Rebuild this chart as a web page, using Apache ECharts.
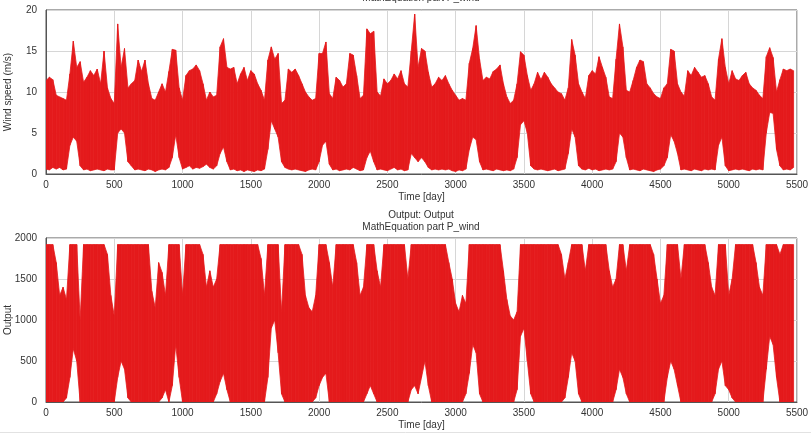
<!DOCTYPE html>
<html>
<head>
<meta charset="utf-8">
<script src="https://cdn.jsdelivr.net/npm/echarts@6/dist/echarts.min.js"></script>
<style>
html, body { margin: 0; padding: 0; background: #fff; }
#chart { width: 811px; height: 433px; }
</style>
</head>
<body>
<div id="chart"></div>
<script>
const STEP = 25

const windHigh = [
  11.4, 11.8, 11.5, 9.6, 9.4, 9.2, 9.0, 12.2, 16.2, 13.0,
  13.7, 11.2, 11.8, 12.6, 12.0, 12.8, 11.0, 15.0, 10.5, 9.2,
  8.6, 18.3, 13.0, 15.3, 10.5, 11.0, 11.4, 13.9, 12.5, 13.9,
  11.0, 9.2, 9.0, 10.0, 11.0, 10.0, 12.5, 15.2, 15.1, 10.5,
  9.0, 12.0, 12.6, 12.8, 13.3, 12.6, 11.0, 9.0, 10.0, 9.4,
  9.6, 15.5, 16.5, 13.0, 12.8, 13.0, 11.0, 12.2, 13.0, 11.4,
  12.6, 12.2, 11.0, 10.2, 9.0, 13.9, 15.5, 14.0, 14.7, 8.6,
  9.0, 12.8, 12.4, 12.8, 12.0, 11.0, 10.0, 9.4, 9.0, 9.2,
  14.7, 14.7, 16.1, 9.8, 9.2, 11.8, 11.4, 10.6, 11.0, 14.7,
  14.5, 12.0, 9.2, 9.6, 17.7, 17.1, 17.4, 10.0, 9.5, 11.6,
  11.0, 11.4, 12.2, 11.6, 12.6, 11.0, 10.6, 15.0, 19.5, 13.0,
  15.3, 15.0, 12.4, 10.6, 11.0, 11.8, 11.4, 12.0, 11.0, 10.2,
  9.6, 9.0, 9.2, 9.0, 13.5, 15.3, 18.1, 14.0, 11.4, 11.8,
  11.6, 12.5, 12.8, 13.3, 11.0, 9.4, 8.6, 9.0, 11.0, 14.9,
  14.5, 12.0, 10.2, 11.0, 12.4, 11.5, 12.4, 11.8, 11.0, 10.5,
  10.0, 9.8, 9.0, 10.5, 16.4, 14.5, 11.0, 10.0, 9.2, 12.0,
  12.6, 12.2, 14.3, 13.0, 11.8, 9.4, 9.2, 14.0, 18.3, 15.5,
  10.2, 10.0, 11.4, 13.0, 13.9, 13.7, 11.0, 10.5, 9.8, 9.4,
  9.2, 10.5, 11.0, 15.2, 15.0, 11.0, 10.0, 9.5, 12.6, 12.0,
  13.0, 12.4, 11.8, 12.0, 11.0, 9.4, 9.0, 14.0, 16.5, 13.0,
  11.0, 12.6, 11.6, 11.4, 12.0, 12.4, 11.0, 10.5, 10.2, 9.6,
  9.2, 14.3, 15.4, 14.2, 10.0, 11.5, 12.8, 12.6, 12.8, 12.6
]
const windLow = [
  0.6, 0.5, 0.8, 0.6, 0.8, 0.5, 0.6, 3.5, 4.5, 4.0,
  1.0, 0.5, 0.6, 0.4, 0.5, 0.6, 0.5, 0.4, 0.6, 0.5,
  0.5, 5.0, 5.5, 5.0, 1.5, 1.0, 0.5, 0.6, 0.5, 0.4,
  0.6, 0.5, 0.3, 0.5, 0.6, 0.5, 0.8, 2.0, 4.8, 2.0,
  0.6, 0.8, 1.0, 0.6, 0.8, 0.7, 0.9, 1.2, 0.8, 0.6,
  1.0, 2.5, 3.3, 1.5, 0.5, 0.6, 0.4, 0.5, 0.3, 0.5,
  0.4, 0.3, 0.5, 0.4, 0.6, 3.0, 6.5, 5.5, 4.5, 1.5,
  0.8, 0.6, 0.5, 0.6, 0.5, 0.4, 0.3, 0.5, 0.6, 0.5,
  1.5, 3.5, 4.0, 1.2, 0.5, 0.6, 0.4, 0.5, 0.6, 0.5,
  0.8, 0.6, 0.4, 0.5, 2.0, 2.8, 1.5, 0.5, 0.6, 0.5,
  0.4, 0.6, 0.8, 0.5, 0.6, 0.4, 0.5, 2.5, 2.0, 1.5,
  2.0, 1.5, 0.8, 0.5, 0.6, 0.5, 0.6, 0.5, 0.6, 0.4,
  0.3, 0.5, 0.4, 0.6, 3.0, 4.5, 4.2, 1.5, 0.5, 0.6,
  0.5, 0.4, 0.6, 0.5, 0.4, 0.5, 0.4, 0.6, 2.0, 6.0,
  6.5, 5.0, 1.0, 0.6, 0.5, 0.6, 0.5, 0.4, 0.5, 0.6,
  0.4, 0.5, 0.6, 2.5, 5.5, 4.5, 1.0, 0.6, 0.5, 0.7,
  0.5, 0.6, 0.4, 0.5, 0.6, 0.5, 0.6, 1.5, 5.0, 4.5,
  2.0, 0.5, 0.6, 0.5, 0.4, 0.6, 0.5, 0.4, 0.3, 0.5,
  0.6, 1.0, 2.0, 4.8, 4.0, 2.5, 0.5, 0.6, 0.5, 0.4,
  0.6, 0.5, 0.4, 0.6, 0.5, 0.6, 0.5, 3.5, 4.5, 1.0,
  0.4, 0.5, 0.6, 0.5, 0.6, 0.5, 0.4, 0.6, 0.5, 0.6,
  0.5, 5.0, 7.5, 7.4, 3.0, 1.0, 0.5, 0.6, 0.5, 0.8
]
const outHigh = [
  1920, 1920, 1920, 1700, 1300, 1400, 1250, 1920, 1920, 1920,
  1000, 1920, 1920, 1920, 1920, 1920, 1920, 1920, 1800, 1300,
  1050, 1920, 1920, 1920, 1920, 1920, 1920, 1920, 1920, 1920,
  1920, 1350, 1150, 1700, 1580, 1300, 1920, 1920, 1920, 1920,
  1300, 1920, 1920, 1920, 1920, 1920, 1800, 1400, 1600, 1400,
  1500, 1920, 1920, 1920, 1920, 1920, 1920, 1920, 1920, 1920,
  1920, 1920, 1920, 1750, 1300, 1920, 1920, 1920, 1920, 1100,
  1920, 1920, 1920, 1920, 1920, 1800, 1300, 1150, 1100, 1300,
  1920, 1920, 1920, 1700, 1400, 1920, 1920, 1920, 1920, 1920,
  1920, 1700, 1300, 1400, 1920, 1920, 1920, 1600, 1400, 1920,
  1920, 1920, 1920, 1920, 1920, 1920, 1500, 1920, 1920, 1920,
  1920, 1920, 1920, 1920, 1920, 1920, 1920, 1920, 1700, 1500,
  1200, 1100, 1300, 1200, 1920, 1920, 1920, 1920, 1920, 1920,
  1920, 1920, 1920, 1920, 1600, 1250, 1050, 1000, 1100, 1920,
  1920, 1920, 1920, 1920, 1920, 1920, 1920, 1920, 1920, 1920,
  1920, 1800, 1500, 1700, 1920, 1920, 1920, 1920, 1600, 1920,
  1920, 1920, 1920, 1920, 1920, 1600, 1400, 1500, 1920, 1920,
  1600, 1920, 1920, 1920, 1920, 1920, 1920, 1920, 1800, 1500,
  1200, 1300, 1920, 1920, 1920, 1920, 1500, 1920, 1920, 1920,
  1920, 1920, 1920, 1920, 1700, 1400, 1300, 1920, 1920, 1920,
  1300, 1500, 1920, 1920, 1920, 1920, 1920, 1920, 1700, 1400,
  1300, 1920, 1920, 1920, 1920, 1800, 1920, 1920, 1920, 1920
]
const outLow = [
  0, 0, 0, 0, 0, 0, 50, 300, 650, 500,
  0, 0, 0, 0, 0, 0, 0, 0, 0, 0,
  0, 300, 500, 400, 50, 0, 0, 0, 0, 0,
  0, 0, 0, 0, 50, 150, 0, 200, 700, 300,
  0, 0, 0, 0, 0, 0, 0, 0, 0, 0,
  100, 250, 350, 150, 0, 0, 0, 0, 0, 0,
  0, 0, 0, 0, 0, 300, 900, 1000, 600, 100,
  0, 0, 0, 0, 0, 0, 0, 0, 0, 50,
  200, 300, 350, 0, 0, 0, 0, 0, 0, 0,
  0, 0, 0, 0, 100, 200, 100, 0, 0, 0,
  0, 0, 0, 0, 0, 0, 0, 150, 200, 100,
  300, 500, 200, 0, 0, 0, 0, 0, 0, 0,
  0, 0, 0, 100, 350, 700, 600, 100, 0, 0,
  0, 0, 0, 0, 0, 0, 0, 0, 150, 800,
  900, 500, 100, 0, 0, 0, 0, 0, 0, 0,
  0, 0, 50, 300, 600, 500, 100, 0, 0, 0,
  0, 0, 0, 0, 0, 0, 0, 150, 400, 300,
  100, 0, 0, 0, 0, 0, 0, 0, 0, 0,
  0, 0, 300, 500, 400, 200, 0, 0, 0, 0,
  0, 0, 0, 0, 0, 0, 100, 400, 500, 200,
  150, 50, 0, 0, 0, 0, 0, 0, 0, 0,
  0, 400, 800, 700, 300, 0, 0, 0, 0, 0
]

const days = windHigh.map((_, i) => i * STEP)
const xTicks = { min: 0, max: 5500, interval: 500 }
const windTicks = { min: 0, max: 20, interval: 5 }
const outTicks = { min: 0, max: 2000, interval: 500 }

const RED = '#e41a1c'
const FONT = 'Liberation Sans, Arial, sans-serif'
const TXT = '#333'

function xAxis(gridIndex) {
  return {
    type: 'value', gridIndex, ...xTicks,
    name: 'Time [day]', nameLocation: 'middle', nameGap: 18, nameMoveOverlap: false,
    nameTextStyle: { color: TXT, fontSize: 10, fontFamily: FONT },
    axisLine: { lineStyle: { color: '#555' } },
    axisTick: { show: false },
    axisLabel: { color: TXT, fontSize: 10, fontFamily: FONT, margin: 6, showMinLabel: true, showMaxLabel: true, formatter: v => String(v) },
    splitLine: { show: true, lineStyle: { color: '#d6d6d6' } }
  }
}

function yAxis(gridIndex, name, ticks) {
  return {
    type: 'value', gridIndex, ...ticks,
    name, nameLocation: 'middle', nameGap: 33, nameRotate: 90, nameMoveOverlap: false,
    nameTextStyle: { color: TXT, fontSize: 10, fontFamily: FONT },
    axisLine: { show: true, lineStyle: { color: '#555' } },
    axisTick: { show: false },
    axisLabel: { color: TXT, fontSize: 10, fontFamily: FONT, margin: 9, formatter: v => String(v) },
    splitLine: { show: true, lineStyle: { color: '#d6d6d6' } }
  }
}

// envelope band between low and high, one quad per sample step
function band(idx, high, low) {
  return {
    type: 'custom', xAxisIndex: idx, yAxisIndex: idx,
    data: days.map((d, i) => [d, low[i], high[i]]),
    encode: { x: 0, y: [1, 2] },
    clip: true,
    renderItem(params, api) {
      const i = params.dataIndexInside
      if (i >= params.dataInsideLength - 1) return null
      const x0 = api.value(0, i), x1 = api.value(0, i + 1)
      const pts = [
        api.coord([x0, api.value(2, i)]),
        api.coord([x1, api.value(2, i + 1)]),
        api.coord([x1, api.value(1, i + 1)]),
        api.coord([x0, api.value(1, i)])
      ]
      return {
        type: 'polygon', shape: { points: pts },
        style: { fill: RED, stroke: RED, lineWidth: 0.8 }
      }
    }
  }
}

const chart = echarts.init(document.getElementById('chart'))
chart.setOption({
  animation: false,
  backgroundColor: '#fff',
  textStyle: { fontFamily: FONT },
  grid: [
    { left: 46, right: 14, top: 10, height: 164, show: true, borderColor: '#555', borderWidth: 1, outerBoundsMode: 'none' },
    { left: 46, right: 14, top: 238, height: 164, show: true, borderColor: '#555', borderWidth: 1, outerBoundsMode: 'none' }
  ],
  xAxis: [xAxis(0), xAxis(1)],
  yAxis: [yAxis(0, 'Wind speed (m/s)', windTicks), yAxis(1, 'Output', outTicks)],
  series: [band(0, windHigh, windLow), band(1, outHigh, outLow)],
  graphic: [
    { type: 'text', x: 421, y: -2, style: { text: 'MathEquation part P_wind', fontSize: 10, fontFamily: FONT, fill: TXT, align: 'center', verticalAlign: 'middle' } },
    { type: 'text', x: 421, y: 215, style: { text: 'Output: Output', fontSize: 10, fontFamily: FONT, fill: TXT, align: 'center', verticalAlign: 'middle' } },
    { type: 'text', x: 421, y: 227, style: { text: 'MathEquation part P_wind', fontSize: 10, fontFamily: FONT, fill: TXT, align: 'center', verticalAlign: 'middle' } },
    { type: 'line', shape: { x1: 0, y1: 432.5, x2: 811, y2: 432.5 }, style: { stroke: '#e2e2e2', lineWidth: 1 } }
  ]
})
</script>
</body>
</html>
